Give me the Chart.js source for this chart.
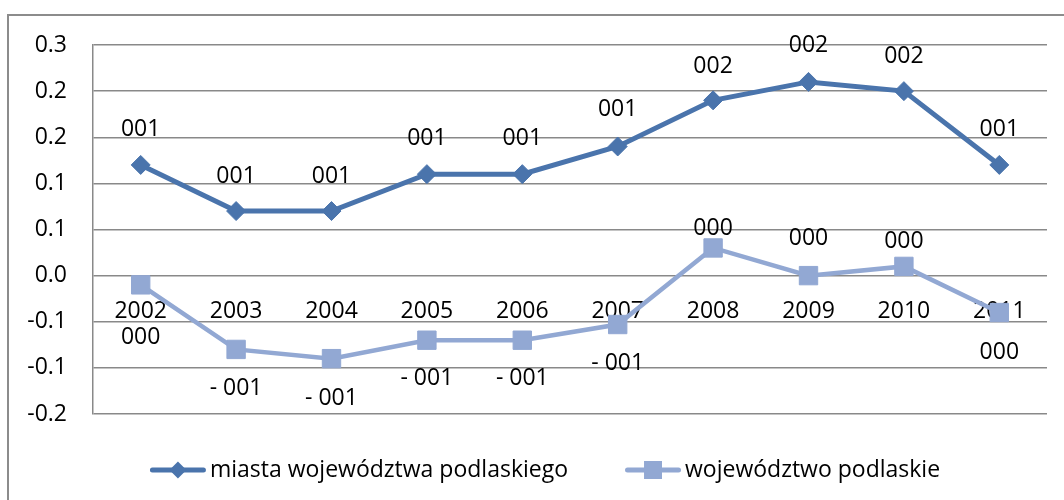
<!DOCTYPE html>
<html lang="pl">
<head>
<meta charset="utf-8">
<title>Miasta województwa podlaskiego</title>
<script src="https://cdn.jsdelivr.net/npm/chart.js@4.4.1/dist/chart.umd.min.js"></script>
<style>
  html, body { margin: 0; padding: 0; background: #fff; width: 1064px; height: 500px; overflow: hidden; }
  /* ramka całego wykresu (w oryginale wychodzi poza kadr z prawej i z dołu) */
  #ramka { position: absolute; left: 7px; top: 14px; width: 1200px; height: 600px;
           border-left: 2px solid #8c8c8c; border-top: 2px solid #8c8c8c; }
  #wykres { position: absolute; left: 0; top: 0; }
</style>
</head>
<body>
<div id="ramka"></div>
<canvas id="wykres" width="1064" height="500"></canvas>
<script>
// Dane
const LATA = ['2002', '2003', '2004', '2005', '2006', '2007', '2008', '2009', '2010', '2011'];
const MIASTA = [0.12, 0.07, 0.07, 0.11, 0.11, 0.14, 0.19, 0.21, 0.20, 0.12];
const WOJEWODZTWO = [-0.01, -0.08, -0.09, -0.07, -0.07, -0.053, 0.03, 0.0, 0.01, -0.04];
const ETYKIETY_MIASTA = ['001', '001', '001', '001', '001', '001', '002', '002', '002', '001'];
const ETYKIETY_WOJ = ['000', '- 001', '- 001', '- 001', '- 001', '- 001', '000', '000', '000', '000'];
const OS_Y = ['-0.2', '-0.1', '-0.1', '0.0', '0.1', '0.1', '0.2', '0.2', '0.3'];

const CIEMNY = '#4A74AC';
const JASNY = '#92A8D3';
const SIATKA = '#898989';
const RODZINA = '"Open Sans", "Liberation Sans", Arial, sans-serif';
const FONT = '23px ' + RODZINA;

Chart.defaults.font.family = RODZINA;
Chart.defaults.font.size = 23;
Chart.defaults.color = '#000';

// Etykiety danych nad / pod punktami (przesunięcia jak w oryginale, część ręcznie poprawiona)
const pluginEtykiety = {
    id: 'etykiety',
    afterDatasetsDraw(chart, args, opts) {
        const ctx = chart.ctx;
        ctx.save();
        ctx.font = FONT;
        ctx.fillStyle = '#000';
        ctx.textAlign = 'center';
        ctx.textBaseline = 'middle';
        chart.data.datasets.forEach((ds, i) => {
            const meta = chart.getDatasetMeta(i);
            const przes = opts.przesuniecia[i];
            meta.data.forEach((pt, j) => {
                ctx.fillText(ds.etykiety[j], pt.x, pt.y + przes[j]);
            });
        });
        ctx.restore();
    }
};

// Legenda w stylu Excela: linia z markerem na środku
const pluginLegenda = {
    id: 'legenda',
    afterDraw(chart, args, opts) {
        const ctx = chart.ctx;
        ctx.save();
        ctx.font = FONT;
        const elementy = chart.data.datasets.map(ds => ({
            ds,
            w: opts.dlLinii + opts.odstepTekstu + ctx.measureText(ds.label).width
        }));
        const razem = elementy.reduce((s, e) => s + e.w, 0) + opts.odstep * (elementy.length - 1);
        let x = opts.srodekX - razem / 2;
        const y = opts.y;

        elementy.forEach(({ ds, w }) => {
            ctx.strokeStyle = ds.borderColor;
            ctx.lineWidth = 5;
            ctx.lineCap = 'round';
            ctx.beginPath();
            ctx.moveTo(x + 2.5, y);
            ctx.lineTo(x + opts.dlLinii - 2.5, y);
            ctx.stroke();

            const cx = x + opts.dlLinii / 2;
            ctx.fillStyle = ds.backgroundColor;
            ctx.beginPath();
            if (ds.pointStyle === 'rectRot') {
                const r = 8.5;
                ctx.moveTo(cx - r, y);
                ctx.lineTo(cx, y - r);
                ctx.lineTo(cx + r, y);
                ctx.lineTo(cx, y + r);
                ctx.closePath();
            } else {
                ctx.rect(cx - 9, y - 9, 18, 18);
            }
            ctx.fill();

            ctx.fillStyle = '#000';
            ctx.textAlign = 'left';
            ctx.textBaseline = 'middle';
            ctx.fillText(ds.label, x + opts.dlLinii + opts.odstepTekstu, y);
            x += w + opts.odstep;
        });
        ctx.restore();
    }
};

new Chart(document.getElementById('wykres'), {
    type: 'line',
    data: {
        labels: LATA,
        datasets: [{
            label: 'miasta województwa podlaskiego',
            data: MIASTA,
            etykiety: ETYKIETY_MIASTA,
            borderColor: CIEMNY,
            backgroundColor: CIEMNY,
            borderWidth: 5,
            tension: 0,
            pointStyle: 'rectRot',
            pointRadius: 9.5,
            pointBorderWidth: 1,
            pointBorderColor: CIEMNY,
            pointBackgroundColor: CIEMNY
        }, {
            label: 'województwo podlaskie',
            data: WOJEWODZTWO,
            etykiety: ETYKIETY_WOJ,
            borderColor: JASNY,
            backgroundColor: JASNY,
            borderWidth: 4.5,
            tension: 0,
            pointStyle: 'rect',
            pointRadius: 13,
            pointBorderWidth: 1,
            pointBorderColor: JASNY,
            pointBackgroundColor: JASNY
        }]
    },
    options: {
        responsive: false,
        animation: false,
        layout: { padding: { left: 0, top: 45, right: 17, bottom: 86 } },
        scales: {
            x: {
                type: 'category',
                offset: true,
                position: { y: 0 },
                grid: { display: false, drawTicks: false },
                border: { display: false },
                ticks: { padding: 22, maxRotation: 0, autoSkip: false, color: '#000' }
            },
            y: {
                min: -0.15,
                max: 0.25,
                afterFit: (scale) => { scale.width = 93; },
                grid: { color: SIATKA, lineWidth: 1.5, drawTicks: false },
                border: { display: true, color: SIATKA, width: 1.5 },
                ticks: {
                    stepSize: 0.05,
                    padding: 26,
                    color: '#000',
                    callback: (v, i) => OS_Y[i]
                }
            }
        },
        plugins: {
            legend: { display: false },
            tooltip: { enabled: false },
            etykiety: {
                przesuniecia: [
                    [-35, -35, -35, -36, -36, -37, -34, -36, -35, -35],
                    [53, 39, 40, 38, 38, 39, -19, -37, -25, 40]
                ]
            },
            legenda: { srodekX: 545, y: 470, dlLinii: 56, odstepTekstu: 4, odstep: 57 }
        }
    },
    plugins: [pluginEtykiety, pluginLegenda]
});
</script>
</body>
</html>
